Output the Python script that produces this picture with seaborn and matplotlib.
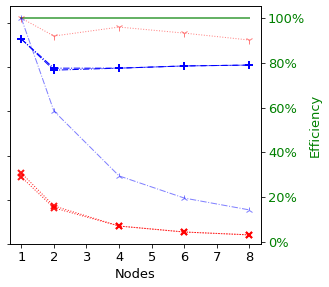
import numpy as np
import pandas as pd
import matplotlib
matplotlib.use('Agg')
import matplotlib.pyplot as plt
import seaborn as sns
from matplotlib.ticker import PercentFormatter

plt.rcParams['font.size'] = 13

# Du lieu doc tu hinh
nodes = [1, 2, 4, 6, 8]

# thoi gian (truc trai, khong co nhan)
red_time_run1 = [32.1, 17.2, 8.1, 5.4, 4.1]
red_time_run2 = [30.3, 16.3, 8.1, 5.4, 4.1]
blue_time_run1 = [92.7, 79.5, 79.5, 80.5, 80.9]
blue_time_run2 = [92.7, 78.6, 79.5, 80.5, 80.9]

# hieu suat (truc phai)
red_eff = [1.00, 0.92, 0.96, 0.933, 0.902]
blue_eff = [1.00, 0.585, 0.295, 0.196, 0.143]
ideal_eff = [1.0, 1.0, 1.0, 1.0, 1.0]

fig, ax = plt.subplots(figsize=(329 / 72, 287 / 72), dpi=72)
plt.subplots_adjust(left=0.030, right=0.793, bottom=0.150, top=0.979)

# seaborn mac dinh mec='w' -> phai dat lai mau vien marker
for run in [red_time_run1, red_time_run2]:
    sns.lineplot(x=nodes, y=run, ax=ax, color='red', lw=1, alpha=0.9,
                 linestyle=':', marker='x', markersize=6,
                 markeredgewidth=2, markeredgecolor='red')
for run in [blue_time_run1, blue_time_run2]:
    sns.lineplot(x=nodes, y=run, ax=ax, color='blue', lw=1,
                 linestyle='-.', marker='+', markersize=8,
                 markeredgewidth=2, markeredgecolor='blue')
ax.set_ylim(0, 107.6)
ax.set_yticks([0, 20, 40, 60, 80, 100])
ax.set_yticklabels([])
ax.set_xlabel('Nodes')
ax.set_xticks(range(1, 9))

ax2 = ax.twinx()
sns.lineplot(x=nodes, y=ideal_eff, ax=ax2, color='green', lw=2, alpha=0.6)
sns.lineplot(x=nodes, y=red_eff, ax=ax2, color='red', lw=1, alpha=0.5,
             linestyle=':', marker='1', markersize=7,
             markeredgewidth=1, markeredgecolor='red')
sns.lineplot(x=nodes, y=blue_eff, ax=ax2, color='blue', lw=1, alpha=0.5,
             linestyle='-.', marker='2', markersize=7,
             markeredgewidth=1, markeredgecolor='blue')
ax2.set_ylim(-0.009, 1.054)
ax2.yaxis.set_major_formatter(PercentFormatter(1.0, decimals=0))
ax2.set_ylabel('Efficiency', color='green')
ax2.tick_params(axis='y', labelcolor='green')
ax2.set_xlim(0.65, 8.35)

plt.savefig('out.png', dpi=72)
plt.close()
